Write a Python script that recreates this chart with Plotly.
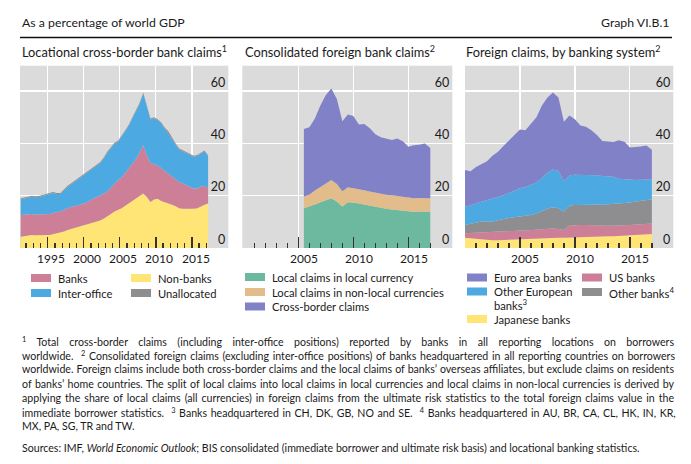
import json
import plotly.graph_objects as go

W, H = 691, 464
FONT = "Lato"
TXT = "#1a1a1a"

# ---------------- Panel 1: Locational cross-border bank claims ----------------
loc_years = [1991.25 + 0.5 * i for i in range(53)]
loc_nonbanks = [4.3, 4.6, 4.8, 5.0, 4.9, 5.0, 5.0, 5.0, 5.0, 5.3, 5.5, 5.8, 6.3, 6.9, 7.3, 7.7,
                8.0, 8.5, 8.9, 9.3, 9.7, 10.1, 10.5, 11.2, 12.0, 13.0, 14.0, 14.6, 15.2, 16.2,
                17.1, 18.0, 19.2, 20.0, 20.8, 19.5, 17.6, 18.5, 18.8, 18.0, 17.6, 17.2, 16.5,
                16.0, 15.2, 15.0, 15.0, 14.9, 15.0, 15.2, 16.0, 16.5, 17.0]
loc_banks = [8.3, 8.2, 8.1, 8.0, 7.9, 7.9, 7.9, 8.0, 8.0, 8.1, 8.2, 8.2, 8.3, 8.3, 8.5, 8.3,
             8.4, 8.3, 8.3, 8.7, 9.1, 9.4, 9.5, 9.6, 9.6, 10.0, 10.6, 11.4, 11.8, 12.6, 13.4,
             14.2, 14.8, 16.5, 18.5, 16.0, 14.9, 13.5, 12.7, 12.5, 11.9, 11.3, 10.7, 10.2,
             10.0, 9.7, 9.0, 8.3, 7.7, 7.6, 7.5, 7.3, 5.8]
loc_interoffice = [6.0, 6.0, 6.3, 6.6, 6.6, 6.6, 6.9, 7.2, 7.6, 7.6, 6.9, 6.6, 7.5, 8.2, 8.6,
                   9.4, 10.0, 10.8, 11.4, 11.4, 11.6, 11.9, 12.4, 13.3, 14.8, 15.1, 15.2, 14.6,
                   15.4, 15.8, 16.3, 17.2, 18.1, 18.6, 19.8, 18.1, 16.6, 17.6, 17.3, 17.1, 16.1,
                   15.6, 14.4, 13.4, 12.4, 12.2, 12.4, 12.4, 12.2, 12.4, 12.6, 13.1, 12.3]
loc_unallocated = [0.4, 0.4, 0.4, 0.4, 0.4, 0.4, 0.4, 0.4, 0.4, 0.4, 0.4, 0.4, 0.4, 0.4, 0.4,
                   0.4, 0.4, 0.4, 0.4, 0.4, 0.4, 0.4, 0.4, 0.4, 0.4, 0.4, 0.4, 0.4, 0.4, 0.4,
                   0.4, 0.4, 0.4, 0.4, 0.4, 0.4, 0.4, 0.4, 0.4, 0.4, 0.4, 0.4, 0.4, 0.4, 0.4,
                   0.4, 0.4, 0.4, 0.4, 0.4, 0.4, 0.4, 0.4]

# ---------------- Panel 2: Consolidated foreign bank claims ----------------
cons_years = [2005.5 + 0.5 * i for i in range(24)]
cons_local_local = [15.2, 15.8, 16.6, 17.5, 18.3, 19.0, 17.8, 15.9, 17.5, 17.4, 17.0, 16.6,
                    16.0, 15.6, 15.3, 15.0, 14.7, 14.5, 14.3, 14.0, 13.9, 14.0, 13.9, 13.9]
cons_local_nonlocal = [4.4, 4.7, 5.4, 5.8, 6.2, 7.0, 6.7, 5.8, 5.7, 5.5, 5.5, 5.5, 5.6, 5.5,
                       5.4, 5.4, 5.5, 5.4, 5.3, 5.2, 5.1, 5.1, 5.1, 5.1]
cons_crossborder = [25.9, 25.7, 27.5, 31.2, 34.0, 35.0, 32.5, 26.8, 27.8, 27.6, 24.7, 25.3,
                    24.2, 22.4, 21.6, 21.4, 21.1, 22.0, 21.2, 19.5, 20.3, 20.4, 21.0, 19.2]

# ---------------- Panel 3: Foreign claims, by banking system ----------------
sys_years = [2000.0 + 0.5 * i for i in range(35)]
sys_japanese = [3.9, 3.7, 3.5, 3.3, 3.1, 3.0, 3.0, 3.1, 3.2, 3.3, 3.3, 3.4, 3.5, 3.6, 3.7,
                3.8, 3.9, 3.9, 3.9, 4.0, 4.1, 4.2, 4.3, 4.3, 4.4, 4.4, 4.5, 4.5, 4.6, 4.7,
                4.8, 4.9, 5.0, 5.2, 5.4]
sys_us = [1.7, 2.0, 2.3, 2.6, 2.9, 3.1, 3.2, 3.2, 3.2, 3.1, 3.2, 3.2, 3.3, 3.4, 3.5, 3.6,
          3.6, 3.4, 3.0, 4.6, 4.7, 4.6, 4.5, 4.5, 4.3, 4.2, 4.0, 4.0, 4.0, 4.0, 4.0, 4.0,
          4.0, 4.0, 4.0]
sys_other = [3.2, 3.5, 3.9, 4.2, 4.1, 4.0, 4.4, 4.8, 5.1, 5.4, 5.5, 5.6, 5.8, 6.2, 7.0, 7.6,
             8.1, 7.9, 7.0, 7.6, 7.6, 7.6, 7.6, 7.6, 7.8, 8.0, 8.2, 8.3, 8.4, 8.5, 8.6, 8.8,
             8.9, 9.0, 9.2]
sys_other_eur = [7.0, 7.1, 7.4, 7.6, 8.2, 8.9, 8.9, 9.1, 9.5, 10.2, 10.8, 11.1, 11.4, 11.8,
                 12.6, 13.8, 14.4, 14.3, 11.6, 11.6, 11.6, 11.6, 11.6, 11.6, 11.3, 10.9,
                 10.7, 10.4, 9.5, 9.1, 8.7, 8.3, 8.2, 8.0, 7.7]
sys_euro = [14.0, 13.0, 13.9, 14.3, 14.9, 16.3, 17.3, 18.8, 20.2, 21.5, 22.5, 21.7, 23.6,
            25.0, 27.7, 28.7, 29.5, 28.0, 22.8, 22.9, 21.2, 18.8, 18.4, 17.0, 15.4, 13.4,
            13.3, 13.3, 14.7, 14.3, 12.3, 12.5, 12.7, 13.0, 11.3]

# ---------------- Text ----------------
header_left = "As a percentage of world GDP"
header_right = "Graph VI.B.1"
panel_titles = ["Locational cross-border bank claims<sup>1</sup>",
                "Consolidated foreign bank claims<sup>2</sup>",
                "Foreign claims, by banking system<sup>2</sup>"]
y_ticks = [0, 20, 40, 60]
footnotes = [
    "<sup>1</sup> Total cross-border claims (including inter-office positions) reported by banks in all reporting locations on borrowers",
    "worldwide.  <sup>2</sup> Consolidated foreign claims (excluding inter-office positions) of banks headquartered in all reporting countries on borrowers",
    "worldwide. Foreign claims include both cross-border claims and the local claims of banks’ overseas affiliates, but exclude claims on residents",
    "of banks’ home countries. The split of local claims into local claims in local currencies and local claims in non-local currencies is derived by",
    "applying the share of local claims (all currencies) in foreign claims from the ultimate risk statistics to the total foreign claims value in the",
    "immediate borrower statistics.  <sup>3</sup> Banks headquartered in CH, DK, GB, NO and SE.  <sup>4</sup> Banks headquartered in AU, BR, CA, CL, HK, IN, KR,",
    "MX, PA, SG, TR and TW.",
]
justified_lines = 6
sources = "Sources: IMF, <i>World Economic Outlook</i>; BIS consolidated (immediate borrower and ultimate risk basis) and locational banking statistics."

# ---------------- Colours ----------------
C_PINK = "#CE7F98"
C_BLUE = "#4DA9E1"
C_YELLOW = "#FFE575"
C_GRAY = "#8E8E90"
C_GREEN = "#6DB9A0"
C_TAN = "#E2BD8B"
C_PURPLE = "#8181C7"
BG = "#DBDBDC"


def px(x):
    return x / W


def py(y):
    return 1 - y / H


fig = go.Figure()


def add_area(xs, ys, name, color, xa, ya, group):
    fig.add_trace(go.Scatter(x=xs, y=ys, name=name, mode="lines", stackgroup=group,
                             line=dict(width=0, color=color), fillcolor=color,
                             xaxis=xa, yaxis=ya, showlegend=False, hoverinfo="skip"))


add_area(loc_years, loc_nonbanks, "Non-banks", C_YELLOW, "x", "y", "a")
add_area(loc_years, loc_banks, "Banks", C_PINK, "x", "y", "a")
add_area(loc_years, loc_interoffice, "Inter-office", C_BLUE, "x", "y", "a")
add_area(loc_years, loc_unallocated, "Unallocated", C_GRAY, "x", "y", "a")

add_area(cons_years, cons_local_local, "Local claims in local currency", C_GREEN, "x2", "y2", "b")
add_area(cons_years, cons_local_nonlocal, "Local claims in non-local currencies", C_TAN, "x2", "y2", "b")
add_area(cons_years, cons_crossborder, "Cross-border claims", C_PURPLE, "x2", "y2", "b")

add_area(sys_years, sys_japanese, "Japanese banks", C_YELLOW, "x3", "y3", "c")
add_area(sys_years, sys_us, "US banks", C_PINK, "x3", "y3", "c")
add_area(sys_years, sys_other, "Other banks", C_GRAY, "x3", "y3", "c")
add_area(sys_years, sys_other_eur, "Other European banks", C_BLUE, "x3", "y3", "c")
add_area(sys_years, sys_euro, "Euro area banks", C_PURPLE, "x3", "y3", "c")

plot_top, plot_bot = 65.7, 248.0
panels = [
    (20, 228.3, [1991.15, 2020.05], [1995, 2000, 2005, 2010, 2015], list(range(1992, 2018)),
     [1995, 2000, 2005, 2010, 2015]),
    (242.3, 452.3, [1999.9, 2019.0], [2005, 2010, 2015], list(range(2001, 2018)), [2005, 2010, 2015]),
    (465, 673.3, [2000.0, 2018.95], [2005, 2010, 2015], list(range(2001, 2018)), [2005, 2010, 2015]),
]

layout = dict(
    width=W, height=H, margin=dict(l=0, r=0, t=0, b=0),
    paper_bgcolor="white", plot_bgcolor=BG, showlegend=False,
    font=dict(family=FONT, color=TXT, size=11),
)
annotations = []
shapes = []

for i, (x0, x1, rng, majors, minors, labels) in enumerate(panels):
    sfx = "" if i == 0 else str(i + 1)
    layout["xaxis" + sfx] = dict(
        domain=[px(x0), px(x1)], range=rng, anchor="y" + sfx,
        tickvals=majors, ticks="inside", ticklen=11, tickwidth=1.3, tickcolor="#333",
        showticklabels=False, showgrid=True, gridcolor="white", gridwidth=1.2,
        zeroline=False, showline=False, fixedrange=True,
        minor=dict(tickvals=minors, ticks="inside", ticklen=5, tickwidth=1.3, tickcolor="#333",
                   showgrid=False),
    )
    layout["yaxis" + sfx] = dict(
        domain=[py(plot_bot), py(plot_top)], range=[0, 69.7], anchor="x" + sfx,
        side="right", ticklabelposition="inside top", tickvals=y_ticks,
        ticks="", showgrid=True, gridcolor="white", gridwidth=1.2, zeroline=False,
        showline=False, tickfont=dict(size=12.5, color=TXT), fixedrange=True,
    )
    for lab in labels:
        annotations.append(dict(x=lab + 0.5, y=py(258.5), xref="x" + sfx, yref="paper",
                                text=str(lab), showarrow=False, xanchor="center",
                                yanchor="middle", font=dict(size=12)))

# header
annotations.append(dict(x=px(20), y=py(22.5), xref="paper", yref="paper", text=header_left,
                        showarrow=False, xanchor="left", yanchor="middle", font=dict(size=12.3)))
annotations.append(dict(x=px(672), y=py(22.5), xref="paper", yref="paper", text=header_right,
                        showarrow=False, xanchor="right", yanchor="middle", font=dict(size=12.3)))
shapes.append(dict(type="line", xref="paper", yref="paper", x0=px(20), x1=px(672),
                   y0=py(37.5), y1=py(37.5), line=dict(color="#111", width=1.3)))

# panel titles
for t, xx in zip(panel_titles, [20, 243, 464]):
    annotations.append(dict(x=px(xx), y=py(51.5), xref="paper", yref="paper", text=t,
                            showarrow=False, xanchor="left", yanchor="middle", font=dict(size=12.8)))

# legends
legend_items = [
    (31, 278, C_PINK, "Banks"),
    (31, 293, C_BLUE, "Inter-office"),
    (131, 278, C_YELLOW, "Non-banks"),
    (131, 293, C_GRAY, "Unallocated"),
    (245, 277, C_GREEN, "Local claims in local currency"),
    (245, 292, C_TAN, "Local claims in non-local currencies"),
    (245, 306.5, C_PURPLE, "Cross-border claims"),
    (467, 277.5, C_PURPLE, "Euro area banks"),
    (467, 291.5, C_BLUE, "Other European"),
    (467, 319, C_YELLOW, "Japanese banks"),
    (582, 277.5, C_PINK, "US banks"),
    (582, 292, C_GRAY, "Other banks<sup>4</sup>"),
]
for (lx, ly, col, lab) in legend_items:
    shapes.append(dict(type="rect", xref="paper", yref="paper", x0=px(lx), x1=px(lx + 20),
                       y0=py(ly + 4), y1=py(ly - 4), fillcolor=col, line=dict(width=0)))
    annotations.append(dict(x=px(lx + 25), y=py(ly), xref="paper", yref="paper", text=lab,
                            showarrow=False, xanchor="left", yanchor="middle", font=dict(size=11.2)))
annotations.append(dict(x=px(492), y=py(304.5), xref="paper", yref="paper", text="banks<sup>3</sup>",
                        showarrow=False, xanchor="left", yanchor="middle", font=dict(size=11.2)))

# footnotes
justify_idx = []
for k, line in enumerate(footnotes):
    if k < justified_lines:
        justify_idx.append(len(annotations))
    annotations.append(dict(x=px(20), y=py(341 + 14.2 * k), xref="paper", yref="paper", text=line,
                            showarrow=False, xanchor="left", yanchor="middle", align="left",
                            font=dict(size=10.6)))
annotations.append(dict(x=px(20), y=py(448), xref="paper", yref="paper", text=sources,
                        showarrow=False, xanchor="left", yanchor="middle", align="left",
                        font=dict(size=10.6)))

layout["annotations"] = annotations
layout["shapes"] = shapes
fig.update_layout(**layout)

post_js = """
document.body.style.margin = '0';
var gd = document.getElementById('{plot_id}');
var idx = %s;
var target = %f;
idx.forEach(function(i) {
  var g = gd.querySelector('g.annotation[data-index="' + i + '"] text.annotation-text');
  if (!g) return;
  var s = g.textContent.replace(/\\s+/g, ' ');
  var n = (s.match(/ /g) || []).length;
  var len = g.getComputedTextLength();
  if (n > 0 && len < target) {
    g.style.wordSpacing = ((target - len) / n) + 'px';
  }
});
""" % (json.dumps(justify_idx), 672 - 20)

fig.write_html("out.html", post_script=post_js,
               config={"displayModeBar": False, "staticPlot": True})
